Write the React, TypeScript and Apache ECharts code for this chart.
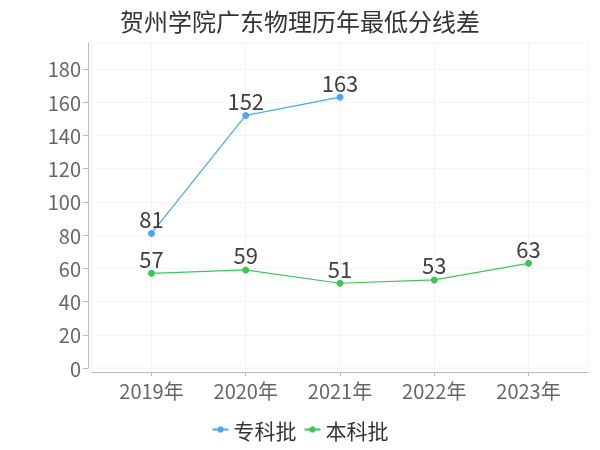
import React, { useEffect, useRef } from "react";
import * as echarts from "echarts";

const years = [2019, 2020, 2021, 2022, 2023];
const zhuanke = [81, 152, 163, null, null];
const benke = [57, 59, 51, 53, 63];
const yTicks = [0, 20, 40, 60, 80, 100, 120, 140, 160, 180];
const seriesNames = ["专科批", "本科批"];
const titleText = "贺州学院广东物理历年最低分线差";

export default function App() {
  const ref = useRef<HTMLDivElement>(null);
  useEffect(() => {
    if (!ref.current) return;
    const chart = echarts.init(ref.current, null, { renderer: "svg" });
    const font = "Noto Sans CJK SC";
    const lbl = {
      show: true,
      position: "top",
      distance: 1,
      fontSize: 22,
      color: "#404040",
      fontFamily: font,
    };
    chart.setOption({
      animation: false,
      textStyle: { fontFamily: font },
      title: {
        text: titleText,
        left: "center",
        top: 3,
        textStyle: { fontSize: 24, fontWeight: "normal", color: "#333", fontFamily: font },
      },
      legend: {
        bottom: 5,
        left: "center",
        itemGap: 7,
        itemWidth: 16,
        itemHeight: 8,
        textStyle: { fontSize: 21, color: "#333", fontFamily: font },
        data: seriesNames,
      },
      grid: {
        left: 92,
        right: 12,
        top: 43,
        bottom: 82,
        show: true,
        borderColor: "#f2f2f2",
        borderWidth: 1,
      },
      xAxis: {
        type: "value",
        min: 2018.369,
        max: 2023.631,
        offset: 4,
        axisLine: { onZero: false, lineStyle: { color: "#bbb" } },
        axisTick: { show: true, length: 4, lineStyle: { color: "#bbb" }, customValues: years },
        axisLabel: {
          fontSize: 20,
          color: "#666",
          margin: 8,
          customValues: years,
          formatter: (v: number) => (Number.isInteger(v) ? v + "年" : ""),
        },
        splitLine: { show: true, lineStyle: { color: "#f4f4f4" } },
      },
      yAxis: {
        type: "value",
        min: 0,
        max: (e: { max: number }) => e.max * 1.2,
        interval: 20,
        offset: 4,
        axisLine: { show: true, lineStyle: { color: "#bbb" } },
        axisTick: { show: true, length: 5, lineStyle: { color: "#bbb" }, customValues: yTicks },
        axisLabel: {
          fontSize: 20,
          color: "#666",
          margin: 7,
          customValues: yTicks,
          formatter: (v: number) => (v % 20 === 0 ? String(v) : ""),
        },
        splitLine: { show: true, lineStyle: { color: "#f4f4f4" } },
      },
      series: [
        {
          name: seriesNames[0],
          type: "line",
          data: years.map((y, i) => [y, zhuanke[i]]),
          symbol: "circle",
          symbolSize: 7,
          lineStyle: { width: 1.2, color: "#4ba6f7" },
          itemStyle: { color: "#4ba6f7" },
          label: lbl,
        },
        {
          name: seriesNames[1],
          type: "line",
          data: years.map((y, i) => [y, benke[i]]),
          symbol: "circle",
          symbolSize: 7,
          lineStyle: { width: 1.2, color: "#3ec45a" },
          itemStyle: { color: "#3ec45a" },
          label: lbl,
        },
      ],
    });
    return () => chart.dispose();
  }, []);
  return <div ref={ref} style={{ position: "fixed", left: 0, top: 0, width: 600, height: 450 }} />;
}
